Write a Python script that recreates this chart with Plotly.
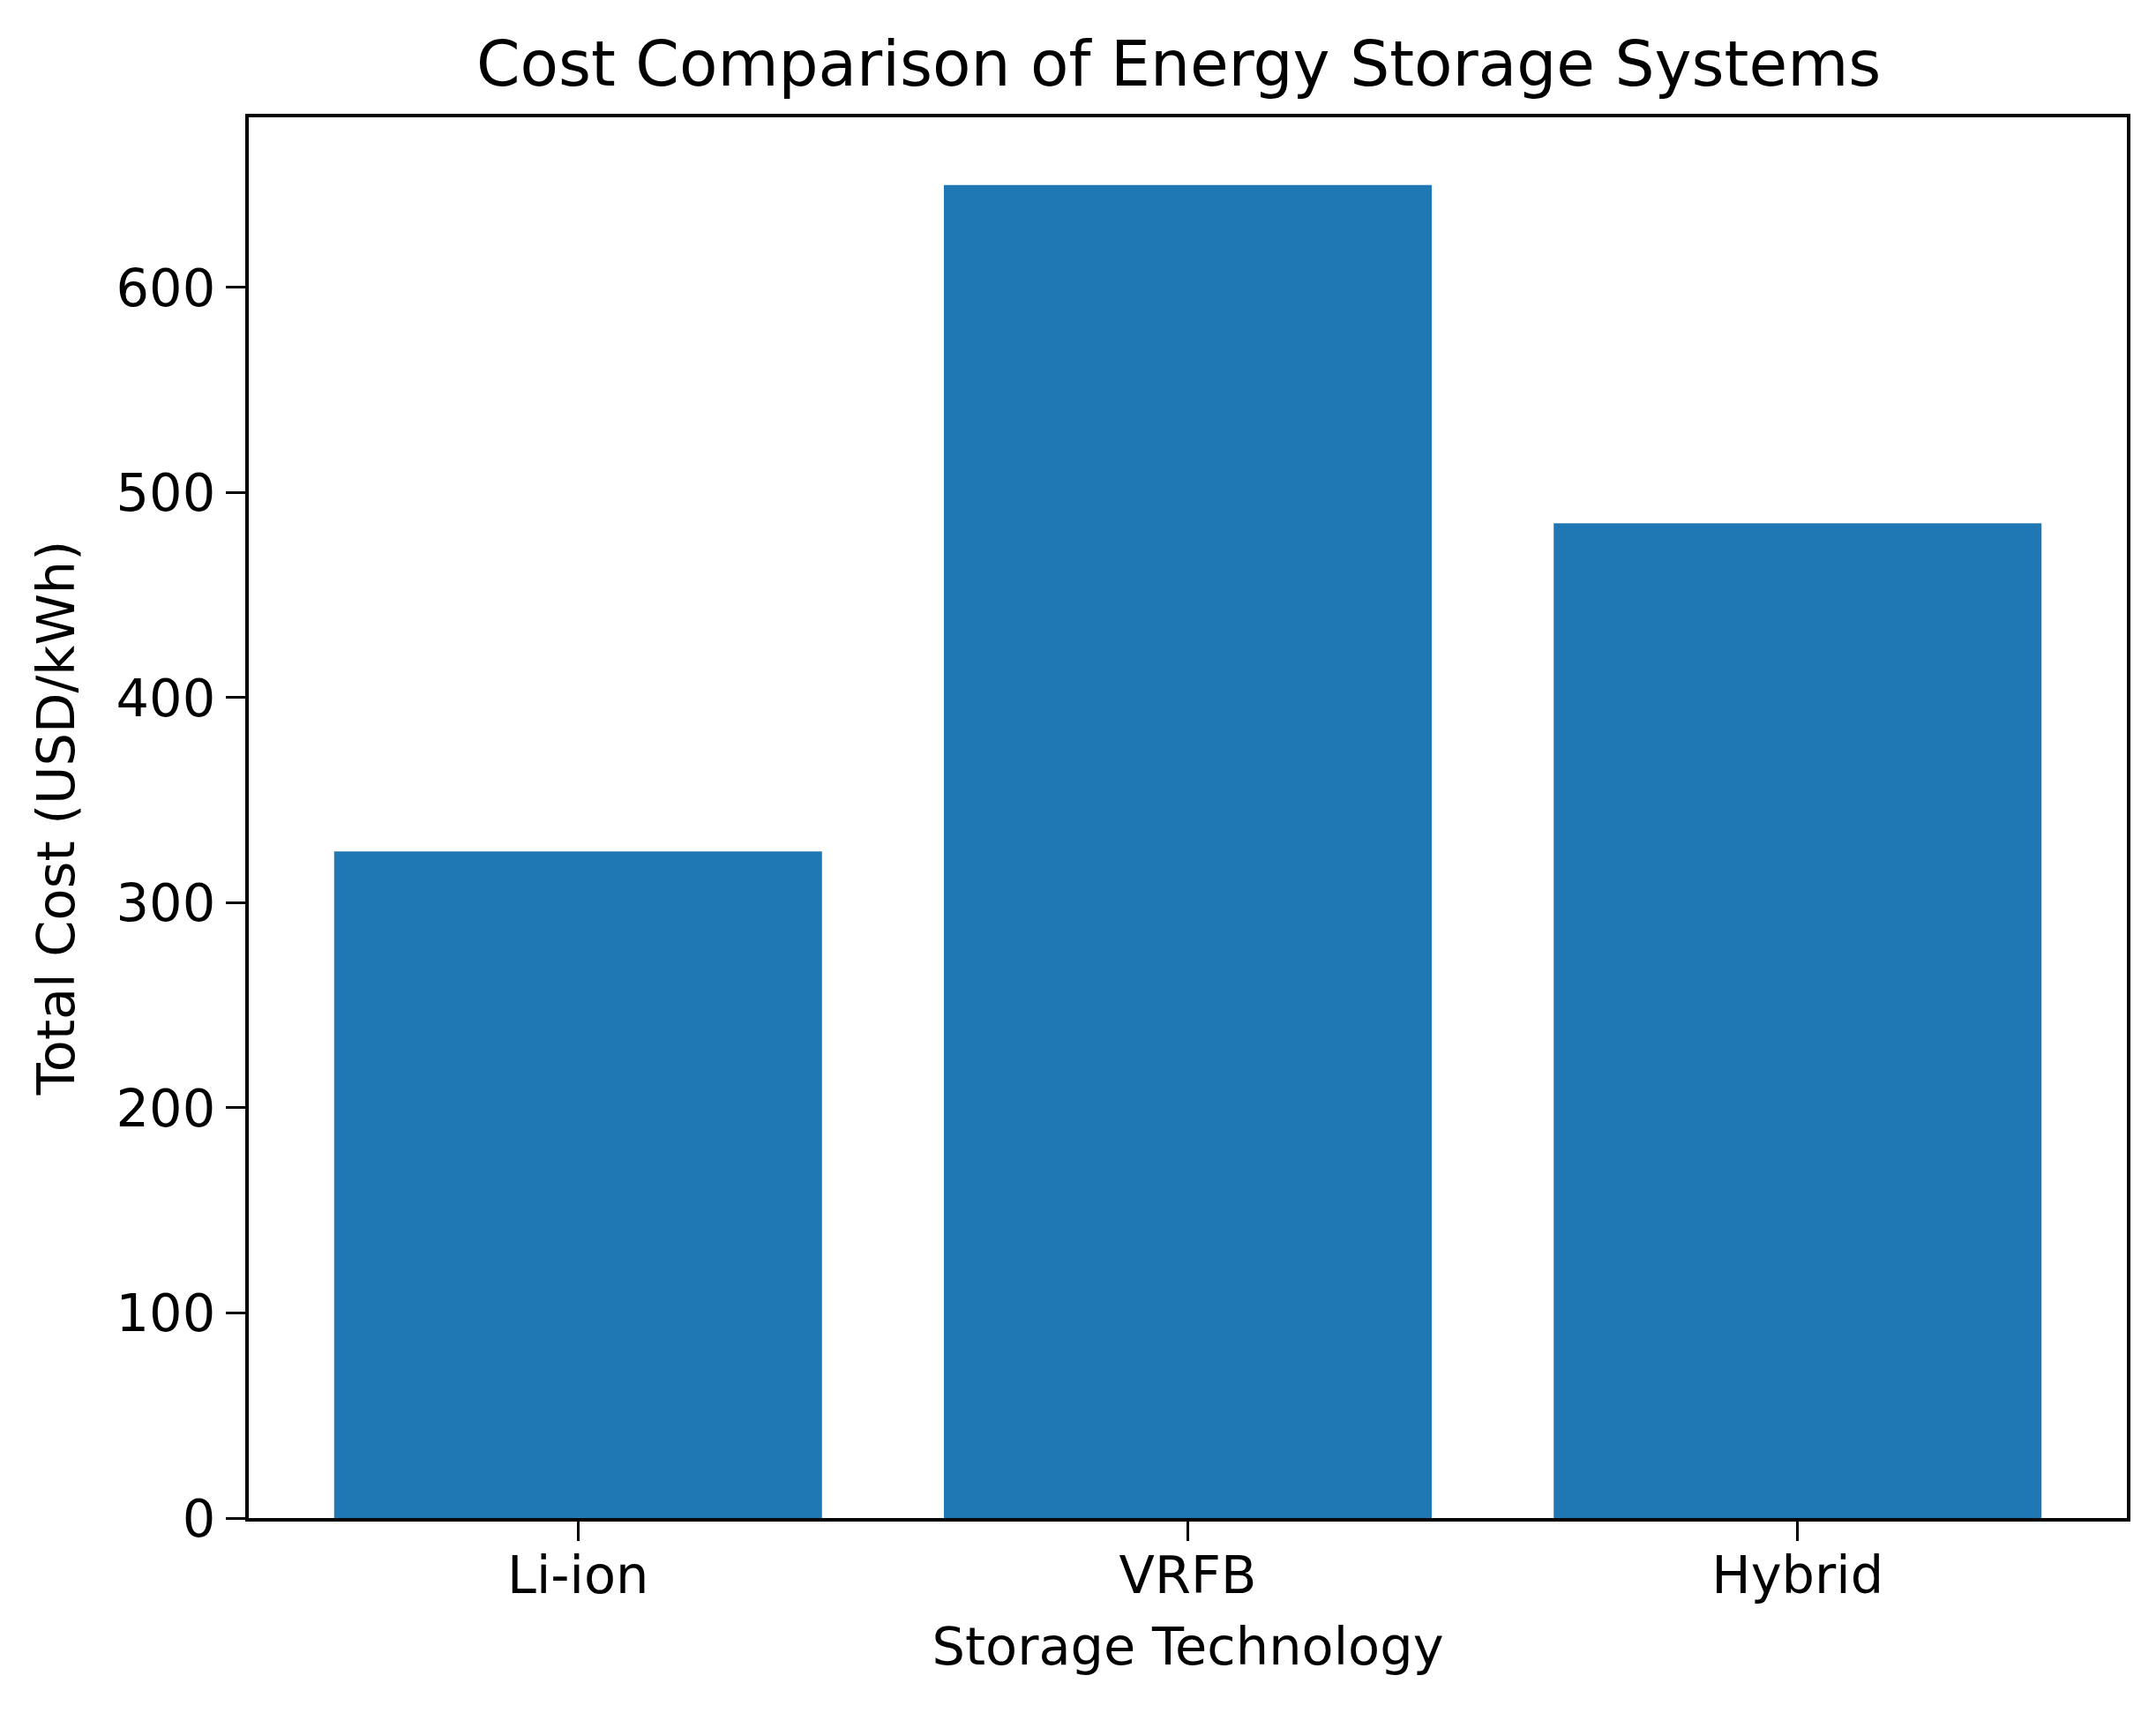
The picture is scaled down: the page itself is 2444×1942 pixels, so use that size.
import plotly.graph_objects as go

technologies = ["Li-ion", "VRFB", "Hybrid"]
total_cost = [325, 650, 485]
y_ticks = [0, 100, 200, 300, 400, 500, 600]

FONT = "DejaVu Sans"
BAR_COLOR = "#1f77b4"

fig = go.Figure(data=go.Bar(x=technologies, y=total_cost, width=0.8, marker_color=BAR_COLOR,
                            marker_line_width=0))

fig.update_layout(
    width=2444, height=1942,
    margin=dict(l=282, r=33, t=133, b=221),
    paper_bgcolor="white", plot_bgcolor="white",
    font=dict(family=FONT, size=59, color="black"),
    title=dict(text="Cost Comparison of Energy Storage Systems", x=0.5467, xanchor="center",
               y=0.963, yanchor="middle", font=dict(size=71, color="black")),
    showlegend=False,
    bargap=0.2,
)
fig.update_xaxes(
    title=dict(text="Storage Technology", standoff=28, font=dict(size=59)),
    range=[-0.54, 2.54], showline=True, linecolor="black", linewidth=4, mirror=True,
    ticks="outside", ticklen=22, tickwidth=3, tickcolor="black", showgrid=False,
    tickfont=dict(size=59), ticklabelstandoff=-12, automargin=False,
)
fig.update_yaxes(
    title=dict(text="Total Cost (USD/kWh)", standoff=29, font=dict(size=59)),
    range=[0, 683], tickvals=y_ticks, showline=True, linecolor="black", linewidth=4, mirror=True,
    ticks="outside", ticklen=22, tickwidth=3, tickcolor="black", showgrid=False, zeroline=False,
    tickfont=dict(size=59), automargin=False,
)

# the page keeps the browser's default body margin otherwise
fig.write_html("out.html", config={"displayModeBar": False},
               post_script="document.body.style.margin='0';")
